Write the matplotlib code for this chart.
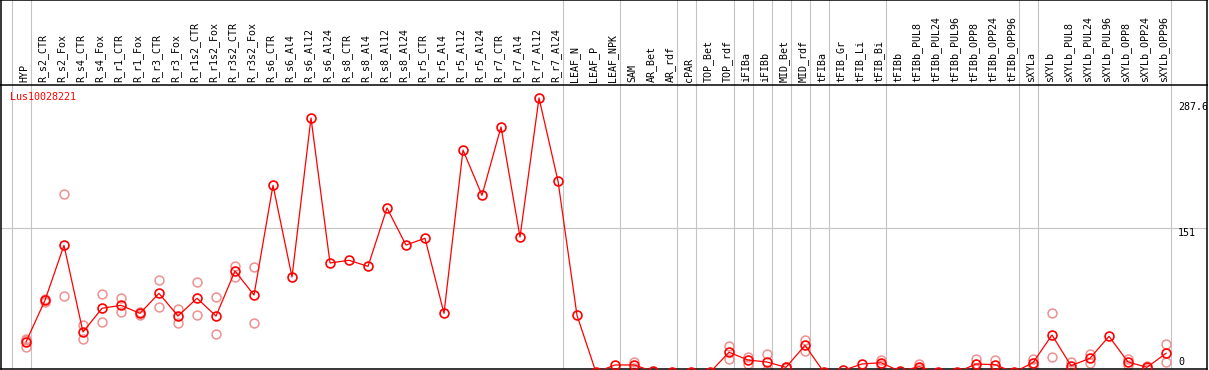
import matplotlib
matplotlib.use("Agg")
import matplotlib.pyplot as plt
import matplotlib.transforms as mtransforms

categories = ["HYP", "R_s2_CTR", "R_s2_Fox", "R_s4_CTR", "R_s4_Fox", "R_r1_CTR", "R_r1_Fox",
              "R_r3_CTR", "R_r3_Fox", "R_r1s2_CTR", "R_r1s2_Fox", "R_r3s2_CTR", "R_r3s2_Fox",
              "R_s6_CTR", "R_s6_Al4", "R_s6_Al12", "R_s6_Al24", "R_s8_CTR", "R_s8_Al4",
              "R_s8_Al12", "R_s8_Al24", "R_r5_CTR", "R_r5_Al4", "R_r5_Al12", "R_r5_Al24",
              "R_r7_CTR", "R_r7_Al4", "R_r7_Al12", "R_r7_Al24", "LEAF_N", "LEAF_P", "LEAF_NPK",
              "SAM", "AR_Bet", "AR_rdf", "cPAR", "TOP_Bet", "TOP_rdf", "iFIBa", "iFIBb",
              "MID_Bet", "MID_rdf", "tFIBa", "tFIB_Gr", "tFIB_Li", "tFIB_Bi", "tFIBb",
              "tFIBb_PUL8", "tFIBb_PUL24", "tFIBb_PUL96", "tFIBb_OPP8", "tFIBb_OPP24",
              "tFIBb_OPP96", "sXYLa", "sXYLb", "sXYLb_PUL8", "sXYLb_PUL24", "sXYLb_PUL96",
              "sXYLb_OPP8", "sXYLb_OPP24", "sXYLb_OPP96"]

means = [31.8, 75.5, 133.1, 42.2, 67.1, 70.2, 61.8, 82.8, 59.0, 77.6, 59.0, 106.2, 81.0,
         196.0, 99.9, 266.6, 114.6, 117.4, 111.1, 172.2, 133.4, 140.5, 61.8, 233.0, 185.6,
         257.2, 141.8, 287.6, 200.5, 59.7, 0, 7.7, 7.7, 1, 0, 0, 0, 21.0, 12.9, 10.8, 5.2,
         28.3, 0, 2, 8.7, 10.1, 1, 5.9, 0, 0, 8.7, 8.0, 0, 10.1, 39.1, 6.9, 14.7, 37.7,
         10.8, 5.2, 19.9]

replicates = [[35.2, 26.8, 33.4], [74, 77], [186.6, 79.7], [49.9, 35.2], [81.8, 52.4],
              [77.6, 62.9], [60.5, 63], [96.4, 68.1], [66.0, 51.4], [94.3, 59.8],
              [78.6, 39.8], [111.4, 100.2], [110.1, 51.4],
              [], [], [], [], [], [], [], [], [], [], [], [], [], [], [], [], [], [], [],
              [10.8, 4.6], [], [], [], [], [27.6, 13.6], [16.4, 8.7], [19.2, 2.4],
              [5.5, 4.9], [33.9, 22.7], [], [], [], [12.9, 7.3], [], [8.7, 3.1], [], [],
              [13.9, 3.5], [12.9, 3.1], [], [13.6, 6.6], [61.8, 16.0], [10.5, 3.3],
              [19.5, 10.1], [], [14.3, 7.3], [7, 3.4], [29.4, 10.5]]

group_ends = [-1, 0, 28, 31, 34, 35, 37, 38, 39, 40, 41, 42, 45, 52, 53, 60]
y_ticks = [0, 151, 287.6]
y_tick_labels = ["0", "151", "287.6"]
gene = "Lus10028221"

W, H = 1209, 370
fig = plt.figure(figsize=(W / 100, H / 100), dpi=100)

def px_axes(x0, y0, x1, y1):
    return fig.add_axes([x0 / W, 1 - y1 / H, (x1 - x0) / W, (y1 - y0) / H])

# x mapping: index i -> pixel 26 + 19 i
xl = ((1 - 26) / 19, (1207 - 26) / 19)
# y mapping: value v -> pixel 372.3 - 0.9539 v
yl = ((372.3 - 369) / 0.9539, (372.3 - 85) / 0.9539)

hdr = px_axes(1, 0, 1207, 85)
ax = px_axes(1, 85, 1207, 369)

mono = "DejaVu Sans Mono"
fs = 7.2
gray = "#c4c4c4"
red = "#ff0000"
pink = "#ee9090"

for a in (hdr, ax):
    a.set_xlim(*xl)
    a.set_xticks([])
    a.set_yticks([])
    for s in a.spines.values():
        s.set_color("black")
        s.set_linewidth(1.1)
hdr.set_ylim(0, 1)
hdr.spines["bottom"].set_visible(False)
ax.set_ylim(*yl)

off = 4.5 / 19
for g in group_ends:
    hdr.axvline(g + off, color=gray, lw=0.8, zorder=0)
    ax.axvline(g + off, color=gray, lw=0.8, zorder=0)

ax.axhline(151, color=gray, lw=0.8, zorder=0)

# header labels
tr = mtransforms.blended_transform_factory(hdr.transData, hdr.transAxes)
for i, c in enumerate(categories):
    hdr.text(i - 2 / 19, 2.5 / 85, c, rotation=90, ha="center", va="bottom",
             family=mono, fontsize=fs, transform=tr)

xs = list(range(len(categories)))
# replicates
rx, ry = [], []
for i, reps in enumerate(replicates):
    for v in reps:
        rx.append(i)
        ry.append(v)
ax.plot(rx, ry, linestyle="none", marker="o", markersize=6.4, markerfacecolor="none",
        markeredgecolor=pink, markeredgewidth=1.1, zorder=2)
ax.plot(xs, means, color=red, lw=0.9, marker="o", markersize=6.4, markerfacecolor="none",
        markeredgecolor=red, markeredgewidth=1.2, zorder=3)

# y tick labels on the right
ty = mtransforms.blended_transform_factory(ax.transAxes, ax.transData)
tx = (1178 - 1) / 1206
ax.text(tx, 151, "151", ha="left", va="top", family=mono, fontsize=fs, transform=ty)
ax.text(tx, 287.6 - 4, "287.6", ha="left", va="top", family=mono, fontsize=fs, transform=ty,
        clip_on=True)
ax.text(tx, 2 / 284, "0", ha="left", va="bottom", family=mono, fontsize=fs,
        transform=ax.transAxes)

ax.text(9 / 1206, 1 - 12 / 284, gene, ha="left", va="center", family=mono, fontsize=fs,
        color=red, transform=ax.transAxes)

fig.savefig("out.png", dpi=100)
